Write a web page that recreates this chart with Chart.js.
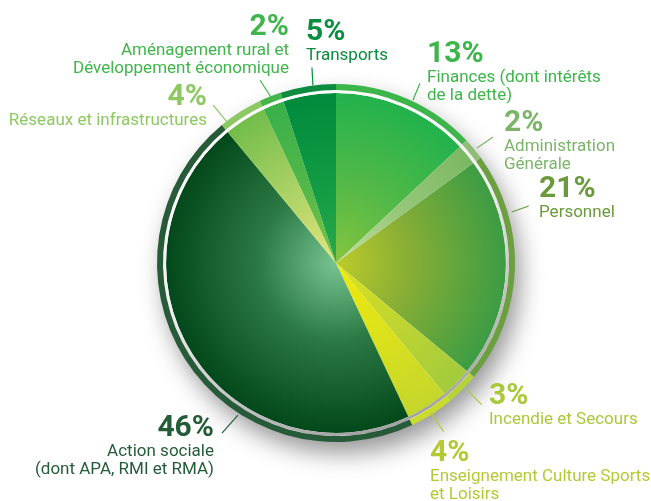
<!DOCTYPE html>
<html>
<head>
<meta charset="utf-8">
<script src="https://cdn.jsdelivr.net/npm/chart.js@4/dist/chart.umd.min.js"></script>
<style>
  html, body { margin: 0; padding: 0; background: #fff; }
  #wrap { width: 651px; height: 501px; }
</style>
</head>
<body>
<div id="wrap"><canvas id="budgetChart" width="651" height="501"></canvas></div>
<script>
// Postes de dépenses, dans l'ordre des aiguilles d'une montre depuis midi
const categories = [
    'Finances (dont intérêts de la dette)',
    'Administration Générale',
    'Personnel',
    'Incendie et Secours',
    'Enseignement Culture Sports et Loisirs',
    'Action sociale (dont APA, RMI et RMA)',
    'Réseaux et infrastructures',
    'Aménagement rural et Développement économique',
    'Transports',
];
const percentages = [13, 2, 21, 3, 4, 46, 4, 2, 5];
const labelLines = [
    ['Finances (dont intérêts', 'de la dette)'],
    ['Administration', 'Générale'],
    ['Personnel'],
    ['Incendie et Secours'],
    ['Enseignement Culture Sports', 'et Loisirs'],
    ['Action sociale', '(dont APA, RMI et RMA)'],
    ['Réseaux et infrastructures'],
    ['Aménagement rural et', 'Développement économique'],
    ['Transports'],
];

// couleurs
const innerColors = ['#86c540', '#c4dfa2', '#bccb2a', '#dce21c', '#f2ea0c', '#78c592', '#e6e57e', '#80c244', '#2aa94b'];
const midColors   = ['#55b947', '#98c97c', '#86ad36', '#c2d630', '#dde21a', '#2c7a45', '#b1d468', '#55b848', '#139c43'];
const outerColors = ['#22b24c', '#7bb862', '#3c9c44', '#a3cb3c', '#c5d62c', '#03481a', '#72bd4b', '#39b04a', '#008a3c'];
const ringColors  = ['#3cb54a', '#8dbd77', '#6c9f40', '#b4d23a', '#c9dc2c', '#265a39', '#8cc863', '#45b54a', '#0d8b3e'];
const textColors  = ['#3db54a', '#7cb46a', '#6a9a3c', '#a9c93a', '#b5c935', '#245c38', '#8dc862', '#40b54b', '#0b8d3f'];

// placement des étiquettes (angle du trait, décalage, position du texte par rapport au centre)
const labelLayout = [
    { a: 25.3,  r: 180, d: [7, -17],  x: 91,   y: -201, align: 'left' },
    { a: 50.8,  r: 182, d: [16, -11], x: 168,  y: -132, align: 'left' },
    { a: 73.8,  r: 183, d: [17, -6],  x: 203,  y: -66,  align: 'left' },
    { a: 134.1, r: 182, d: [15, 15],  x: 153,  y: 141,  align: 'left' },
    { a: 147.7, r: 177, d: [13, 19],  x: 94,   y: 198,  align: 'left' },
    { a: 212.8, r: 181, d: [-16, 18], x: -122, y: 173,  align: 'right' },
    { a: 322.3, r: 178, d: [-14, -17], x: -129, y: -158, align: 'right' },
    { a: 338.6, r: 178, d: [-11, -17], x: -47,  y: -228, align: 'right' },
    { a: 352.6, r: 179, d: [-1, -18], x: -30,  y: -223, align: 'left' },
];

function centre(chart) {
    const a = chart.chartArea;
    return {
        cx: (a.left + a.right) / 2,
        cy: (a.top + a.bottom) / 2,
        r: Math.min(a.right - a.left, a.bottom - a.top) / 2,
    };
}

function sliceFill(ctx) {
    const chart = ctx.chart;
    const i = ctx.dataIndex;
    if (!chart.chartArea) return midColors[i];
    const { cx, cy, r } = centre(chart);
    const g = chart.ctx.createRadialGradient(cx, cy, 0, cx, cy, r * 0.95);
    g.addColorStop(0, innerColors[i]);
    g.addColorStop(0.45, midColors[i]);
    g.addColorStop(1, outerColors[i]);
    return g;
}

function gapFill(ctx) {
    const chart = ctx.chart;
    if (!chart.chartArea) return '#ddd';
    const { cx, cy, r } = centre(chart);
    const g = chart.ctx.createLinearGradient(cx - r * 0.4, cy - r, cx + r * 0.4, cy + r);
    g.addColorStop(0, '#ffffff');
    g.addColorStop(0.45, '#f0f0f0');
    g.addColorStop(1, '#9a9a9a');
    return g;
}

// ombre portée sous le camembert
const shadowPlugin = {
    id: 'shadow',
    beforeDatasetsDraw(chart) {
        const { cx, cy, r } = centre(chart);
        const c = chart.ctx;
        c.save();
        c.shadowColor = 'rgba(0,0,0,0.42)';
        c.shadowBlur = 24;
        c.shadowOffsetX = 6;
        c.shadowOffsetY = 12;
        c.fillStyle = '#fff';
        c.beginPath();
        c.arc(cx, cy, r - 1, 0, Math.PI * 2);
        c.fill();
        c.restore();
    },
};

// étiquettes avec traits de rappel
const labelPlugin = {
    id: 'sliceLabels',
    afterDraw(chart) {
        const { cx, cy } = centre(chart);
        const c = chart.ctx;
        c.save();
        labelLayout.forEach((L, i) => {
            const ang = (L.a - 90) * Math.PI / 180;
            const x0 = cx + L.r * Math.cos(ang);
            const y0 = cy + L.r * Math.sin(ang);
            c.strokeStyle = textColors[i];
            c.lineWidth = 1.2;
            c.beginPath();
            c.moveTo(x0, y0);
            c.lineTo(x0 + L.d[0], y0 + L.d[1]);
            c.stroke();

            c.fillStyle = textColors[i];
            c.textAlign = L.align;
            c.textBaseline = 'alphabetic';
            c.font = 'bold 30px Roboto';
            c.fillText(percentages[i] + '%', cx + L.x, cy + L.y);
            c.font = '17px Roboto';
            labelLines[i].forEach((t, k) => {
                c.fillText(t, cx + L.x, cy + L.y + 20 + k * 18);
            });
        });
        c.restore();
    },
};

const ctx = document.getElementById('budgetChart').getContext('2d');
const budgetChart = new Chart(ctx, {
    type: 'pie',
    data: {
        labels: categories,
        datasets: [
            {
                label: 'anneau',
                data: percentages,
                backgroundColor: ringColors,
                borderWidth: 0,
                weight: 6,
            },
            {
                label: 'filet',
                data: [100],
                backgroundColor: gapFill,
                borderWidth: 0,
                weight: 3,
            },
            {
                label: 'Dépenses',
                data: percentages,
                backgroundColor: sliceFill,
                borderWidth: 0,
                weight: 170,
            },
        ],
    },
    options: {
        responsive: false,
        animation: false,
        events: [],
        hoverOffset: 0,
        layout: { padding: { top: 84, bottom: 59, left: 157, right: 136 } },
        plugins: {
            legend: { display: false },
            tooltip: { enabled: false },
        },
    },
    plugins: [shadowPlugin, labelPlugin],
});
</script>
</body>
</html>
